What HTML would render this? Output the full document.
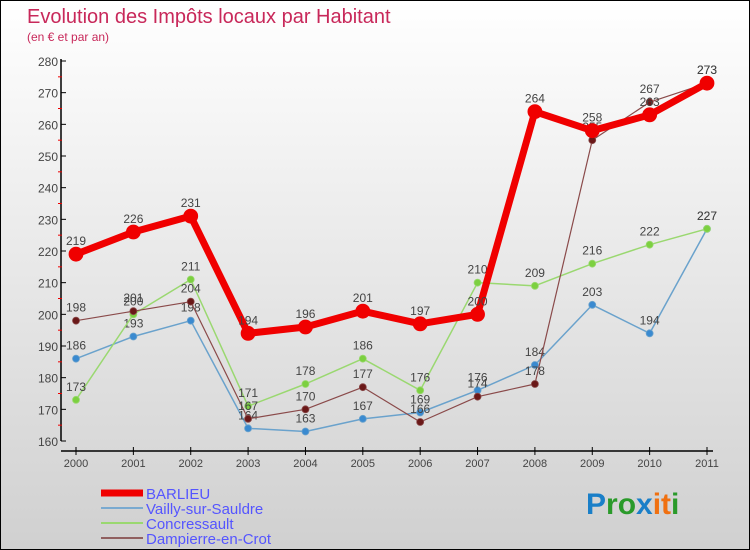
<!DOCTYPE html>
<html><head><meta charset="utf-8"><style>
body{margin:0}
#c{width:750px;height:550px;position:relative;background:linear-gradient(#ffffff,#d0d0d0);box-sizing:border-box;border:1px solid #000;font-family:"Liberation Sans",sans-serif;overflow:hidden}
svg{position:absolute;left:0;top:0}
</style></head><body>
<div id="c">
<svg id="s" width="750" height="550">
<text x="26" y="22" font-size="20" fill="#c8285a">Evolution des Impôts locaux par Habitant</text>
<text x="26" y="40" font-size="12" fill="#c8285a">(en € et par an)</text>
<text x="585" y="513" font-size="30" font-weight="bold"><tspan fill="#1a7fc8">P</tspan><tspan fill="#2a9a2a">ro</tspan><tspan fill="#1a7fc8">x</tspan><tspan fill="#f07010">it</tspan><tspan fill="#2a9a2a">i</tspan></text>
</svg>
</div>
<script>
const years=[2000,2001,2002,2003,2004,2005,2006,2007,2008,2009,2010,2011];
const yTicks=[160,170,180,190,200,210,220,230,240,250,260,270,280];
const barlieu=[219,226,231,194,196,201,197,200,264,258,263,273];
const vailly=[186,193,198,164,163,167,169,176,184,203,194,227];
const concressault=[173,200,211,171,178,186,176,210,209,216,222,227];
const dampierre=[198,201,204,167,170,177,166,174,178,255,267,273];
const NS="http://www.w3.org/2000/svg";
const s=document.getElementById('s');
const X=i=>75+i*(706-75)/11;
const Y=v=>440-(v-160)*(380/120);
function mk(t,a,p){const e=document.createElementNS(NS,t);for(const k in a)e.setAttribute(k,a[k]);(p||s).appendChild(e);return e;}
const ax=mk('g',{});


mk('line',{x1:60,y1:58,x2:60,y2:440,stroke:'#000','stroke-width':1.5},ax);
mk('line',{x1:60,y1:450,x2:712,y2:450,stroke:'#000','stroke-width':1.5},ax);
yTicks.forEach((v,i)=>{
 mk('line',{x1:60,y1:Y(v),x2:65,y2:Y(v),stroke:'#000'},ax);
 if(i<yTicks.length-1)mk('line',{x1:57,y1:Y(v+5),x2:61,y2:Y(v+5),stroke:'#e00'},ax);
 const t=mk('text',{x:57,y:Y(v)+5,'text-anchor':'end','font-size':12,fill:'#444'},ax);
 
 
 t.textContent=v;
});
years.forEach((y,i)=>{
 mk('line',{x1:X(i),y1:446,x2:X(i),y2:454,stroke:'#000'},ax);
 const t=mk('text',{x:X(i),y:466,'text-anchor':'middle','font-size':11,fill:'#444'},ax);
 
 
 t.textContent=y;
});
function series(data,color,w,r,dot,name){
 const g=mk('g',{});
 
 
 mk('polyline',{points:data.map((v,i)=>X(i)+','+Y(v)).join(' '),fill:'none',stroke:color,'stroke-width':w,'stroke-linejoin':'round'},g);
 data.forEach((v,i)=>{
  const c=mk('circle',{cx:X(i),cy:Y(v),r:r,fill:dot,stroke:color,'stroke-width':0.8},g);
  
  
  const t=mk('text',{x:X(i),y:Y(v)-9,'text-anchor':'middle','font-size':12,fill:'#444'},g);
  
  
  t.textContent=v;
 });
}
series(vailly,'#6aa2cc',1.5,3.5,'#3a8ad0','series-vailly');
series(concressault,'#9ad870',1.5,3.5,'#7cd040','series-concressault');
series(dampierre,'#8a4a4a',1.2,3.5,'#6a1818','series-dampierre');
series(barlieu,'#f00000',7,7,'#f00000','series-barlieu');
const leg=[['BARLIEU','#f00000',7],['Vailly-sur-Sauldre','#7aaad0',2],['Concressault','#9ad870',2],['Dampierre-en-Crot','#906060',2]];
leg.forEach((l,i)=>{
 const g=mk('g',{});
 
 
 const y=492+i*15;
 mk('line',{x1:100,y1:y,x2:142,y2:y,stroke:l[1],'stroke-width':l[2]},g);
 const t=mk('text',{x:145,y:y+6,'font-size':15,fill:'#5555ff'},g);
 t.textContent=l[0];
});
</script>
</body></html>
